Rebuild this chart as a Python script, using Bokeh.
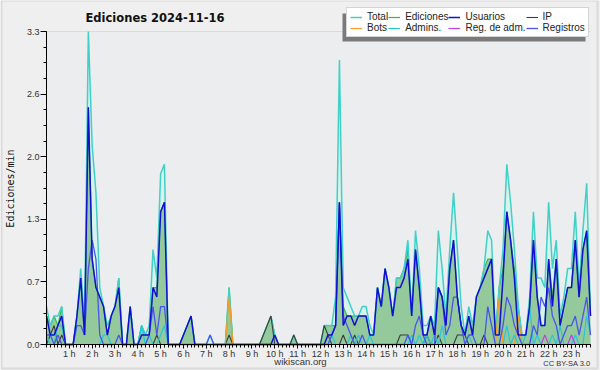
import math
import numpy as np
from bokeh.plotting import figure
from bokeh.models import (ColumnDataSource, Range1d, FixedTicker, Legend, LegendItem,
                          Label, BoxAnnotation)
from bokeh.embed import file_html
from bokeh.resources import INLINE

# ---------------- texts ----------------
title_text = "Ediciones  2024-11-16"
y_axis_title = "Ediciones/min"
source_text = "wikiscan.org"
license_text = "CC BY-SA 3.0"
legend_labels = ["Total", "Ediciones", "Usuarios", "IP", "Bots", "Admins.", "Reg. de adm.", "Registros"]

# ---------------- axes ----------------
step_minutes = 10
x_tick_values = [1, 2, 3, 4, 5, 6, 7, 8, 9, 10, 11, 12, 13, 14, 15, 16, 17, 18, 19, 20, 21, 22, 23]
x_tick_labels = ["1 h", "2 h", "3 h", "4 h", "5 h", "6 h", "7 h", "8 h", "9 h", "10 h", "11 h", "12 h",
                 "13 h", "14 h", "15 h", "16 h", "17 h", "18 h", "19 h", "20 h", "21 h", "22 h", "23 h"]
y_tick_values = [0, 0.66, 1.32, 1.98, 2.64, 3.3]
y_tick_labels = ["0.0", "0.7", "1.3", "2.0", "2.6", "3.3"]

# ---------------- data (edits per minute, 10-minute steps) ----------------
total = [
    .4, .2, .3, .3, .4, 0, 0, 0, .3, .8, .2, 3.3,
    2.1, 1.6, .6, .4, .2, .3, .4, .7, 0, 0, .4, 0,
    0, .2, .1, .2, 1.0, .7, 1.8, 1.9, 0, 0, 0, 0,
    .1, .2, .3, 0, 0, 0, 0, .1, 0, 0, 0, 0,
    .6, 0, 0, 0, 0, 0, 0, 0, 0, .1, .2, .3,
    .1, 0, 0, 0, 0, .1, 0, 0, 0, 0, 0, 0,
    0, .2, .2, .2, .5, 3.0, .6, .5, .4, .3, .3, .4,
    .4, .2, .1, .6, .4, .8, .6, .3, .7, .7, .8, 1.1,
    .3, 1.2, .8, .2, .2, .3, .2, 1.2, .8, .3, 1.0, 1.6,
    1.0, .4, .1, .4, .2, .5, .6, .8, 1.2, 1.1, .1, .6,
    1.0, 1.9, 1.5, 1.0, .4, .1, .1, .5, 1.4, .7, .7, .6,
    1.5, .8, 1.1, .3, .5, .8, .8, 1.4, .6, 1.2, 1.7, .3,
]
ediciones = [
    .3, .2, .3, .2, .4, 0, 0, 0, .3, .7, .1, 2.5,
    .9, .6, .5, .4, .1, .3, .4, .7, 0, 0, .4, 0,
    0, .2, .1, .1, .6, .6, 1.4, 1.5, 0, 0, 0, 0,
    .1, .2, .3, 0, 0, 0, 0, 0, 0, 0, 0, 0,
    .6, 0, 0, 0, 0, 0, 0, 0, 0, .1, .2, .3,
    .1, 0, 0, 0, 0, .1, 0, 0, 0, 0, 0, 0,
    0, .2, .2, .2, .2, 1.5, .4, .3, .3, .3, .3, .3,
    .3, .1, .1, .6, .4, .8, .6, .3, .7, .7, .8, 1.0,
    .3, 1.0, .6, .1, .1, .3, .1, .6, .5, .2, .8, 1.1,
    .5, .2, .1, .3, .1, .5, .6, .8, .9, .9, .1, .6,
    .8, 1.4, 1.1, .8, .4, .1, .1, .4, 1.1, .5, .2, .2,
    .9, .5, .9, .2, .4, .6, .6, 1.1, .5, 1.0, 1.2, .3,
]
usuarios = [
    .3, .1, .1, .2, .3, 0, 0, 0, .3, .7, .1, 2.5,
    .9, .6, .5, .4, .1, .3, .4, .6, 0, 0, .4, 0,
    0, .1, .1, .1, .6, .5, 1.4, 1.5, 0, 0, 0, 0,
    .1, .2, .3, 0, 0, 0, 0, 0, 0, 0, 0, 0,
    0, 0, 0, 0, 0, 0, 0, 0, 0, 0, 0, 0,
    .1, 0, 0, 0, 0, 0, 0, 0, 0, 0, 0, 0,
    0, 0, .1, .1, .2, 1.5, .2, .3, .3, .2, .3, .3,
    .3, .1, .1, .6, .4, .8, .6, .3, .6, .6, .7, .9,
    .3, 1.0, .6, .1, .1, .3, .1, .6, .5, .2, .8, 1.1,
    .5, .2, .1, .3, .1, .5, .6, .7, .8, .9, .1, .1,
    .7, 1.4, 1.1, .7, .1, .1, .1, .4, 1.1, .5, .2, .2,
    .9, .4, .9, .2, .4, .6, .6, 1.1, .5, 1.0, 1.2, .3,
]
ip = [
    0, .1, .2, 0, .1, 0, 0, 0, 0, 0, 0, 0,
    0, 0, 0, 0, 0, 0, 0, 0, 0, 0, 0, 0,
    0, 0, 0, 0, 0, .1, 0, 0, 0, 0, 0, 0,
    0, 0, 0, 0, 0, 0, 0, 0, 0, 0, 0, 0,
    .1, 0, 0, 0, 0, 0, 0, 0, 0, .1, .2, .3,
    0, 0, 0, 0, 0, .1, 0, 0, 0, 0, 0, 0,
    0, .2, .1, 0, 0, 0, .1, 0, 0, .1, 0, 0,
    0, 0, 0, 0, 0, 0, 0, 0, 0, .1, .1, .1,
    0, 0, 0, 0, .1, 0, 0, .1, 0, 0, 0, 0,
    .1, .1, .1, 0, 0, 0, 0, .1, 0, 0, 0, 0,
    0, 0, 0, 0, 0, 0, 0, 0, 0, 0, 0, 0,
    0, 0, 0, 0, 0, 0, 0, 0, 0, 0, 0, 0,
]
bots = [
    0, 0, 0, 0, 0, 0, 0, 0, 0, 0, 0, 0,
    0, 0, 0, 0, 0, 0, 0, 0, 0, 0, 0, 0,
    0, 0, 0, 0, 0, 0, 0, 0, 0, 0, 0, 0,
    0, 0, 0, 0, 0, 0, 0, 0, 0, 0, 0, 0,
    .5, 0, 0, 0, 0, 0, 0, 0, 0, 0, 0, 0,
    0, 0, 0, 0, 0, 0, 0, 0, 0, 0, 0, 0,
    0, 0, 0, 0, 0, 0, 0, 0, 0, 0, 0, 0,
    0, 0, 0, 0, 0, 0, 0, 0, 0, 0, 0, 0,
    0, 0, 0, 0, 0, 0, 0, 0, 0, 0, 0, 0,
    0, 0, 0, 0, 0, 0, 0, 0, 0, 0, 0, .5,
    0, 0, 0, 0, .3, 0, 0, 0, 0, 0, 0, 0,
    0, 0, 0, 0, 0, 0, 0, 0, 0, 0, 0, 0,
]
admins = [
    .1, 0, 0, .2, .2, 0, 0, 0, 0, 0, 0, 0,
    0, 0, 0, .1, .1, 0, 0, 0, 0, 0, 0, 0,
    0, .2, 0, .1, 0, 0, .1, .2, 0, 0, 0, 0,
    0, 0, 0, 0, 0, 0, 0, 0, 0, 0, 0, 0,
    0, 0, 0, 0, 0, 0, 0, 0, 0, 0, 0, 0,
    0, 0, 0, 0, 0, 0, 0, 0, 0, 0, 0, 0,
    0, 0, 0, .1, 0, 0, 0, 0, .1, 0, .1, 0,
    0, .1, 0, 0, 0, 0, 0, 0, 0, 0, 0, 0,
    .1, 0, .1, 0, .1, 0, .1, 0, .2, 0, 0, 0,
    0, 0, 0, .1, 0, 0, 0, 0, 0, 0, 0, 0,
    0, .2, 0, .1, 0, 0, .1, .4, 0, .1, 0, 0,
    0, .1, 0, .2, 0, 0, 0, .1, 0, 0, .3, .1,
]
reg_adm = [
    0, 0, 0, 0, 0, 0, 0, 0, 0, 0, 0, 0,
    0, 0, 0, 0, 0, 0, 0, 0, 0, 0, 0, 0,
    0, 0, 0, 0, 0, 0, 0, 0, 0, 0, 0, 0,
    0, 0, 0, 0, 0, 0, 0, 0, 0, 0, 0, 0,
    0, 0, 0, 0, 0, 0, 0, 0, 0, 0, 0, 0,
    0, 0, 0, 0, 0, 0, 0, 0, 0, 0, 0, 0,
    0, 0, 0, 0, 0, 0, 0, 0, 0, 0, 0, 0,
    0, 0, 0, 0, 0, 0, 0, 0, 0, 0, 0, 0,
    0, 0, 0, 0, 0, 0, 0, 0, 0, 0, 0, 0,
    0, 0, 0, 0, 0, 0, 0, 0, 0, 0, 0, 0,
    0, 0, 0, 0, 0, 0, 0, 0, 0, 0, 0, .1,
    0, 0, 0, 0, 0, 0, .1, 0, 0, 0, 0, 0,
]
registros = [
    .1, .1, 0, .1, 0, 0, 0, 0, .2, .2, .1, .8,
    1.1, .9, .1, 0, 0, 0, 0, .1, 0, 0, 0, 0,
    0, 0, 0, .1, .4, .1, .4, .4, 0, 0, 0, 0,
    0, 0, 0, 0, 0, 0, 0, .1, 0, 0, 0, 0,
    0, 0, 0, 0, 0, 0, 0, 0, 0, 0, 0, 0,
    0, 0, 0, 0, 0, 0, 0, 0, 0, 0, 0, 0,
    0, 0, 0, .1, .2, 1.5, .3, .2, .1, 0, 0, .1,
    0, 0, 0, 0, 0, 0, 0, 0, 0, 0, 0, .1,
    0, .2, .3, .1, 0, 0, 0, .6, .5, .1, .2, .5,
    .5, .2, 0, .1, .1, 0, 0, 0, .4, .2, 0, 0,
    .2, .5, .4, .2, .1, 0, 0, 0, .2, .1, .5, .4,
    .6, .3, .2, 0, .1, .2, .2, .3, .1, .3, .5, .1,
]

hours = np.arange(len(total)) * step_minutes / 60.0
minor_x = list(hours)
minor_y = list(np.arange(0, 3.3001, 0.165))

# ---------------- geometry (canvas pixels) ----------------
W, H = 600, 370
px_left, px_right = 46, 590      # x pixels of first / last sample
px_zero, px_top = 344, 31        # y pixels of value 0 and of the axis top
y_axis_max = y_tick_values[-1]
x_last = float(hours[-1])
kx = x_last / (px_right - px_left)
ky = y_axis_max / (px_zero - px_top)
x_start, x_end = -px_left * kx, x_last + (W - px_right) * kx
y_start, y_end = -(H - px_zero) * ky, y_axis_max + px_top * ky


def px_x(px):
    return x_start + px * kx


def px_y(py):
    return y_end - py * ky


src = ColumnDataSource(dict(t=hours, total=total, ediciones=ediciones, usuarios=usuarios,
                            ip=ip, bots=bots, admins=admins, reg_adm=reg_adm,
                            registros=registros))

p = figure(width=W, height=H, output_backend="svg", toolbar_location=None, title=None,
           x_range=Range1d(x_start, x_end), y_range=Range1d(y_start, y_end), min_border=0,
           background_fill_color="#efefef", border_fill_color="#efefef")
p.outline_line_color = None
p.xgrid.visible = False
p.ygrid.visible = False

# plot area background + outer frame line
p.add_layout(BoxAnnotation(left=0, right=x_last, bottom=0, top=y_axis_max,
                           fill_color="#ebedef", fill_alpha=1, line_color=None,
                           level="underlay"))
p.add_layout(BoxAnnotation(left=1, right=597, bottom=2, top=H,
                           left_units="screen", right_units="screen",
                           top_units="screen", bottom_units="screen",
                           fill_alpha=0, line_color="#a9a9a9", line_width=2,
                           level="underlay"))

# horizontal grid lines at the y ticks
p.segment(x0=0, x1=x_last, y0=y_tick_values, y1=y_tick_values,
          line_color="#c9c9c9", line_width=1, level="underlay")

# areas
p.varea(x="t", y1=0, y2="total", source=src, fill_color="#d8f2ee", fill_alpha=1)
p.varea(x="t", y1=0, y2="ediciones", source=src, fill_color="#93c99b", fill_alpha=1)

# lines
r_ed = p.line("t", "ediciones", source=src, line_color="#3cb44a", line_width=1.2)
r_tot = p.line("t", "total", source=src, line_color="#3fd1c6", line_width=1.5)
r_ip = p.line("t", "ip", source=src, line_color="#3d3d3d", line_width=1.1)
r_bots = p.line("t", "bots", source=src, line_color="#ff9a1a", line_width=1.2)
r_adm = p.line("t", "admins", source=src, line_color="#27c6da", line_width=1.2)
r_regadm = p.line("t", "reg_adm", source=src, line_color="#c040e0", line_width=1.2)
r_reg = p.line("t", "registros", source=src, line_color="#4b55ee", line_width=1.3)
r_usr = p.line("t", "usuarios", source=src, line_color="#1010d0", line_width=1.5)
legend_renderers = [r_tot, r_ed, r_usr, r_ip, r_bots, r_adm, r_regadm, r_reg]

# axes, fixed at the data origin
p.yaxis.ticker = FixedTicker(ticks=y_tick_values, minor_ticks=minor_y)
p.yaxis.major_label_overrides = dict(zip(y_tick_values, y_tick_labels))
p.yaxis.bounds = (0, y_axis_max)
p.yaxis.fixed_location = 0
p.xaxis.ticker = FixedTicker(ticks=x_tick_values, minor_ticks=minor_x)
p.xaxis.major_label_overrides = dict(zip(x_tick_values, x_tick_labels))
p.xaxis.bounds = (0, x_last)
p.xaxis.fixed_location = 0

for ax in (p.xaxis, p.yaxis):
    ax.axis_line_color = "black"
    ax.major_tick_line_color = "black"
    ax.minor_tick_line_color = "black"
    ax.major_tick_in = 0
    ax.minor_tick_in = 0
    ax.major_label_text_font = "Liberation Sans"
    ax.major_label_text_font_size = "9px"
    ax.major_label_text_color = "#333333"
p.yaxis.major_tick_out = 6
p.yaxis.minor_tick_out = 3
p.yaxis.major_label_standoff = 1
p.xaxis.major_tick_out = 4
p.xaxis.minor_tick_out = 3
p.xaxis.major_label_standoff = 0

# texts (screen units: x from left, y from bottom of the canvas)
p.add_layout(Label(x=85, y=H - 17, x_units="screen", y_units="screen", text=title_text,
                   text_font="DejaVu Sans", text_font_style="bold", text_font_size="11.5px",
                   text_baseline="middle", text_color="#111111"))
p.add_layout(Label(x=10, y=H - 188, x_units="screen", y_units="screen", text=y_axis_title,
                   angle=math.pi / 2, text_align="center", text_baseline="middle",
                   text_font="DejaVu Sans Mono", text_font_size="10px", text_color="#111111"))
p.add_layout(Label(x=300, y=H - 361, x_units="screen", y_units="screen", text=source_text,
                   text_align="center", text_baseline="middle",
                   text_font="Liberation Sans", text_font_size="9.5px", text_color="#333333"))
p.add_layout(Label(x=590, y=H - 363, x_units="screen", y_units="screen", text=license_text,
                   text_align="right", text_baseline="middle",
                   text_font="Liberation Sans", text_font_size="7.5px", text_color="#333333"))

# legend drop shadow (grey box down-left of the legend box)
legend_left, legend_top, legend_right, legend_bottom = 346, 9, 589, 37
shadow_dx, shadow_dy = -4, 4
p.quad(left=px_x(legend_left + shadow_dx), right=px_x(legend_right + shadow_dx),
       bottom=px_y(legend_bottom + shadow_dy), top=px_y(legend_top + shadow_dy),
       fill_color="#7a7a7a", fill_alpha=1, line_color=None)

legend = Legend(items=[LegendItem(label=l, renderers=[r])
                       for l, r in zip(legend_labels, legend_renderers)],
                location=(legend_left, H - legend_bottom),
                orientation="horizontal", ncols=4,
                label_text_font="Liberation Sans", label_text_font_size="10px",
                label_text_line_height=1.0, label_text_color="#222222",
                glyph_width=12, glyph_height=8, label_height=8, label_width=10,
                label_standoff=5, spacing=0, padding=3, margin=0,
                border_line_color="#aaaaaa", background_fill_color="white",
                background_fill_alpha=1)
p.add_layout(legend)

open("out.html", "w").write(file_html(p, INLINE))
